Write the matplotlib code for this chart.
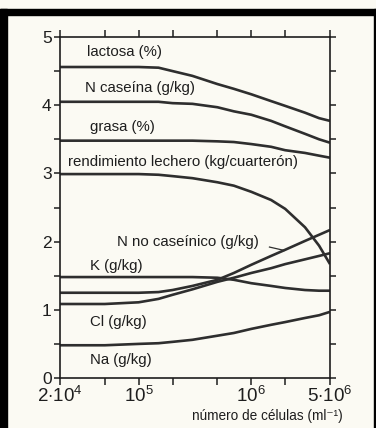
import matplotlib
matplotlib.use("Agg")
import matplotlib.pyplot as plt
from matplotlib.patches import Rectangle
from matplotlib.ticker import NullLocator, MultipleLocator

plt.rcParams['font.family'] = ['Liberation Sans', 'DejaVu Sans']
plt.rcParams['mathtext.fontset'] = 'custom'
plt.rcParams['mathtext.rm'] = 'Liberation Sans'
plt.rcParams['mathtext.it'] = 'Liberation Sans'

# cell count (cells/ml) and milk composition values
cells = [2e4, 5e4, 1e5, 1.5e5, 2e5, 3e5, 5e5, 7e5, 1e6, 1.5e6, 2e6, 3e6, 4e6, 5e6]
lactosa = [4.56, 4.56, 4.56, 4.55, 4.50, 4.43, 4.31, 4.24, 4.16, 4.06, 3.99, 3.89, 3.81, 3.77]
n_caseina = [4.05, 4.05, 4.05, 4.05, 4.03, 4.02, 3.97, 3.91, 3.86, 3.77, 3.69, 3.58, 3.50, 3.45]
grasa = [3.48, 3.48, 3.48, 3.48, 3.48, 3.48, 3.47, 3.46, 3.43, 3.39, 3.34, 3.30, 3.26, 3.23]
rendimiento = [2.99, 2.99, 2.99, 2.98, 2.96, 2.93, 2.87, 2.82, 2.73, 2.61, 2.48, 2.21, 1.94, 1.67]
n_no_caseinico = [1.25, 1.25, 1.25, 1.26, 1.29, 1.35, 1.44, 1.54, 1.66, 1.79, 1.88, 2.01, 2.10, 2.17]
potasio = [1.48, 1.48, 1.48, 1.48, 1.48, 1.48, 1.47, 1.44, 1.39, 1.35, 1.32, 1.29, 1.28, 1.28]
cloro = [1.085, 1.085, 1.11, 1.16, 1.22, 1.30, 1.41, 1.47, 1.54, 1.61, 1.67, 1.74, 1.79, 1.83]
sodio = [0.48, 0.48, 0.50, 0.51, 0.53, 0.56, 0.62, 0.66, 0.72, 0.78, 0.82, 0.88, 0.92, 0.97]

series = [lactosa, n_caseina, grasa, rendimiento, n_no_caseinico, potasio, cloro, sodio]
labels = ['lactosa (%)', 'N caseína (g/kg)', 'grasa (%)',
          'rendimiento lechero (kg/cuarterón)', 'N no caseínico (g/kg)',
          'K (g/kg)', 'Cl (g/kg)', 'Na (g/kg)']
# label anchors in axes fraction (left edge, vertical centre)
label_pos = [(0.10, 0.955), (0.093, 0.850), (0.111, 0.735), (0.030, 0.632),
             (0.211, 0.399), (0.111, 0.328), (0.111, 0.164), (0.111, 0.053)]

xticks = [2e4, 5e4, 1e5, 2e5, 5e5, 1e6, 2e6, 5e6]
xticklabels = [r'$2{\cdot}10^4$', '', r'$10^5$', '', '', r'$10^6$', '', r'$5{\cdot}10^6$']

bg = '#fbfaf3'
ink = '#1e1e1e'
line_col = '#2e2e2e'

fig = plt.figure(figsize=(3.76, 4.28), dpi=100, facecolor=bg)

# black frame around the figure
fig.patches.append(Rectangle((0, 0), 7 / 376, 419 / 428, transform=fig.transFigure,
                             color='black', zorder=0))
fig.patches.append(Rectangle((0, 413 / 428), 1, 6 / 428, transform=fig.transFigure,
                             color='black', zorder=0))
fig.patches.append(Rectangle((374 / 376, 0), 2 / 376, 419 / 428, transform=fig.transFigure,
                             color='black', zorder=0))

ax = fig.add_axes([60 / 376, 50 / 428, 270 / 376, 341 / 428])
ax.set_facecolor(bg)

for y, lab in zip(series, labels):
    ax.plot(cells, y, color=line_col, lw=1.9, solid_capstyle='butt')

for (px, py), lab in zip(label_pos, labels):
    ax.text(px, py, lab, transform=ax.transAxes, fontsize=10.8, color=ink,
            ha='left', va='center')

# leader from the N no caseínico label to its curve
ax.plot([1.45e6, 1.97e6], [1.92, 1.87], color=line_col, lw=0.9)

ax.set_xscale('log')
ax.set_xlim(2e4, 5e6)
ax.set_ylim(0, 5)
ax.set_xticks(xticks)
ax.set_xticklabels(xticklabels)
ax.xaxis.set_minor_locator(NullLocator())
ax.yaxis.set_major_locator(MultipleLocator(1))
ax.yaxis.set_minor_locator(MultipleLocator(0.5))

ax.tick_params(axis='both', which='both', direction='out', color=ink,
               labelcolor=ink, width=1.1, labelsize=12.5)
ax.tick_params(axis='x', which='major', length=5, pad=1, top=True, labelsize=13.5)
ax.tick_params(axis='y', which='major', length=4, pad=2, right=True)
ax.tick_params(axis='y', which='minor', length=4, right=True)

for s in ax.spines.values():
    s.set_color(ink)
    s.set_linewidth(1.2)

fig.text(267 / 376, 1 - 416 / 428, 'número de células (ml⁻¹)',
         family=['Liberation Sans', 'DejaVu Sans'],
         fontsize=9.8, color=ink, ha='center', va='center')

fig.savefig('out.png', dpi=100, facecolor=bg)
